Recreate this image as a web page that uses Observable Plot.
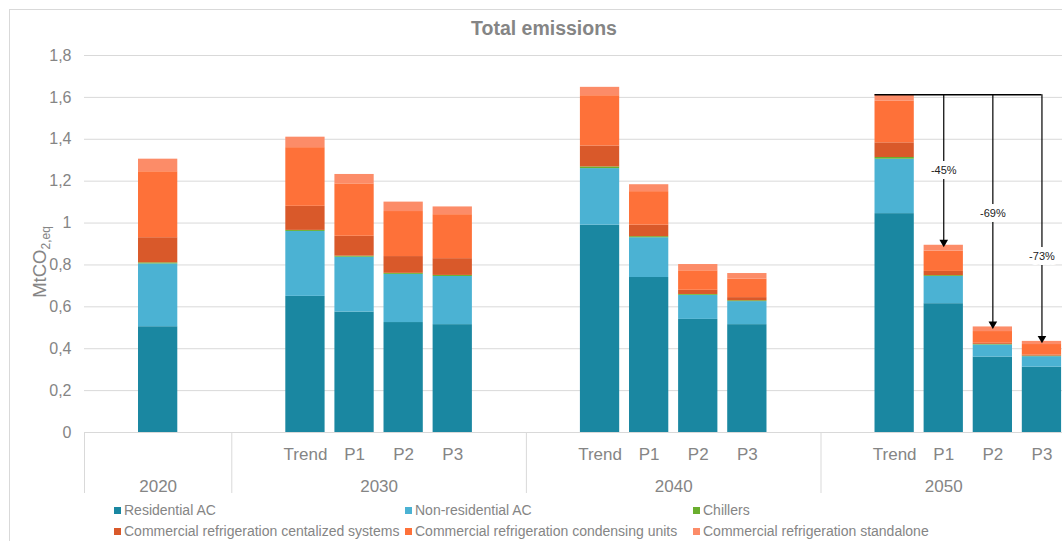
<!DOCTYPE html>
<html><head><meta charset="utf-8">
<script src="https://cdn.jsdelivr.net/npm/d3@7"></script>
<script src="https://cdn.jsdelivr.net/npm/@observablehq/plot@0.6"></script>
<style>
html,body{margin:0;padding:0;background:#fff;overflow:hidden;width:1062px;height:541px;}
#frame{position:absolute;left:9px;top:9px;width:1100px;height:600px;border:1px solid #d9d9d9;}
#title{position:absolute;left:0;width:1088px;top:17px;text-align:center;font:bold 19.5px "Liberation Sans",Arial,sans-serif;color:#858585;}
#chart{position:absolute;left:0;top:0;}
#legend{position:absolute;left:114px;top:500px;display:grid;grid-template-columns:291px 288px 320px;font:14px "Liberation Sans",Arial,sans-serif;color:#858585;line-height:21px;white-space:nowrap;}
#legend .item{display:flex;align-items:center;}
#legend .sw{display:inline-block;width:7px;height:7px;margin-right:3px;}
</style></head>
<body>
<div id="frame"></div>
<div id="title">Total emissions</div>
<div id="chart"></div>
<div id="legend"></div>
<script>
const series = ["Residential AC","Non-residential AC","Chillers","Commercial refrigeration centalized systems","Commercial refrigeration condensing units","Commercial refrigeration standalone"];
const colors = ["#1a87a1","#4bb2d3","#6aae2e","#d9592a","#fe7139","#fc8c68"];
const years = ["2020","2030","2040","2050"];
const scenariosByYear = [[""],["Trend","P1","P2","P3"],["Trend","P1","P2","P3"],["Trend","P1","P2","P3"]];
const yTicks = [0,0.2,0.4,0.6,0.8,1,1.2,1.4,1.6,1.8];

// bar order: 2020, 2030 Trend/P1/P2/P3, 2040 Trend/P1/P2/P3, 2050 Trend/P1/P2/P3
const residential = [0.505,0.65,0.575,0.525,0.515,0.99,0.74,0.54,0.515,1.045,0.615,0.36,0.312];
const nonResidential = [0.30,0.31,0.262,0.23,0.23,0.27,0.19,0.115,0.11,0.26,0.13,0.058,0.05];
const chillers = [0.005,0.005,0.005,0.005,0.005,0.008,0.005,0.004,0.004,0.008,0.004,0.003,0.003];
const centralized = [0.12,0.115,0.095,0.08,0.08,0.1,0.055,0.02,0.015,0.07,0.02,0.005,0.005];
const condensing = [0.315,0.28,0.25,0.215,0.21,0.24,0.16,0.093,0.088,0.2,0.097,0.056,0.05];
const standalone = [0.06,0.05,0.045,0.045,0.037,0.04,0.033,0.03,0.027,0.03,0.028,0.022,0.015];
const seriesValues = [residential,nonResidential,chillers,centralized,condensing,standalone];

const reductionLabels = ["-45%","-69%","-73%"];
const reductionLabelY = [1.25,1.045,0.84];

// slot layout (one blank slot before each group, one after except the last)
const bars = [], bounds = [], yearTicks = [];
let start = 0;
years.forEach((yr, g) => {
  const sc = scenariosByYear[g];
  sc.forEach((s, i) => bars.push({year: yr, scen: s, slot: start + 1 + i}));
  const w = sc.length + (g < years.length - 1 ? 2 : 1);
  bounds.push(start);
  yearTicks.push({v: start + w / 2, label: yr});
  start += w;
});
const totalSlots = start;
const rows = [];
bars.forEach((b, i) => series.forEach((s, k) => rows.push({slot: b.slot, series: s, value: seriesValues[k][i]})));
const totals = bars.map((b, i) => d3.sum(seriesValues, v => v[i]));
const scenTicks = bars.filter(b => b.scen !== "");
const scenLabel = new Map(scenTicks.map(b => [b.slot + 0.5, b.scen]));
const yearLabel = new Map(yearTicks.map(d => [d.v, d.label]));

const b2050 = bars.filter(b => b.year === "2050");
const trendIdx = bars.indexOf(b2050[0]);
const bracketY = totals[trendIdx];
const ann = b2050.slice(1).map((b, i) => ({slot: b.slot, total: totals[bars.indexOf(b)], label: reductionLabels[i], ly: reductionLabelY[i]}));

const fmt = d => String(d).replace(".", ",");

const chart = Plot.plot({
  width: 1062, height: 500,
  marginTop: 55, marginBottom: 68, marginLeft: 84, marginRight: 0,
  x: {domain: [0, totalSlots], range: [84, 1066]},
  y: {domain: [0, 1.8]},
  color: {domain: series, range: colors},
  style: {fontFamily: "'Liberation Sans', Arial, sans-serif", color: "#858585", background: "transparent", overflow: "visible"},
  marks: [
    Plot.gridY(yTicks, {stroke: "#d9d9d9", strokeOpacity: 1}),
    Plot.axisY(yTicks, {tickSize: 0, tickPadding: 13, fontSize: 16, tickFormat: fmt, label: null}),
    Plot.rectY(rows, {x1: d => d.slot + 0.1, x2: d => d.slot + 0.9, y: "value", fill: "series"}),
    Plot.axisX(bounds, {tickSize: 61, tickFormat: () => "", stroke: "#d9d9d9", strokeOpacity: 1, label: null}),
    Plot.axisX(scenTicks.map(b => b.slot + 0.5), {tickSize: 0, tickPadding: 15, fontSize: 17, tickFormat: d => scenLabel.get(d), label: null}),
    Plot.axisX(yearTicks.map(d => d.v), {tickSize: 0, tickPadding: 47, fontSize: 17, tickFormat: d => yearLabel.get(d), label: null}),
    Plot.ruleY([bracketY], {x1: b2050[0].slot + 0.1, x2: b2050[b2050.length - 1].slot + 0.5, stroke: "black", strokeWidth: 1.5}),
    Plot.ruleX(ann, {x: d => d.slot + 0.5, y1: bracketY, y2: "total", stroke: "black", strokeWidth: 1.2}),
    Plot.dot(ann, {x: d => d.slot + 0.5, y: "total", symbol: "triangle", r: 3.2, fill: "black", rotate: 180, dy: -3}),
    Plot.text(ann, {x: d => d.slot + 0.5, y: "ly", text: "label", fill: "#222", stroke: "white", strokeWidth: 10, paintOrder: "stroke", fontSize: 11})
  ]
});
document.getElementById("chart").appendChild(chart);

const t = d3.select(chart).append("text")
  .attr("transform", "translate(46,262) rotate(-90)")
  .attr("fill", "#858585").style("font-size", "18.5px");
t.append("tspan").text("MtCO");
t.append("tspan").attr("font-size", "12px").attr("dy", "4").text("2,eq");

const legend = d3.select("#legend");
series.forEach((s, k) => {
  const it = legend.append("div").attr("class", "item");
  it.append("span").attr("class", "sw").style("background", colors[k]);
  it.append("span").text(s);
});
</script>
</body></html>
